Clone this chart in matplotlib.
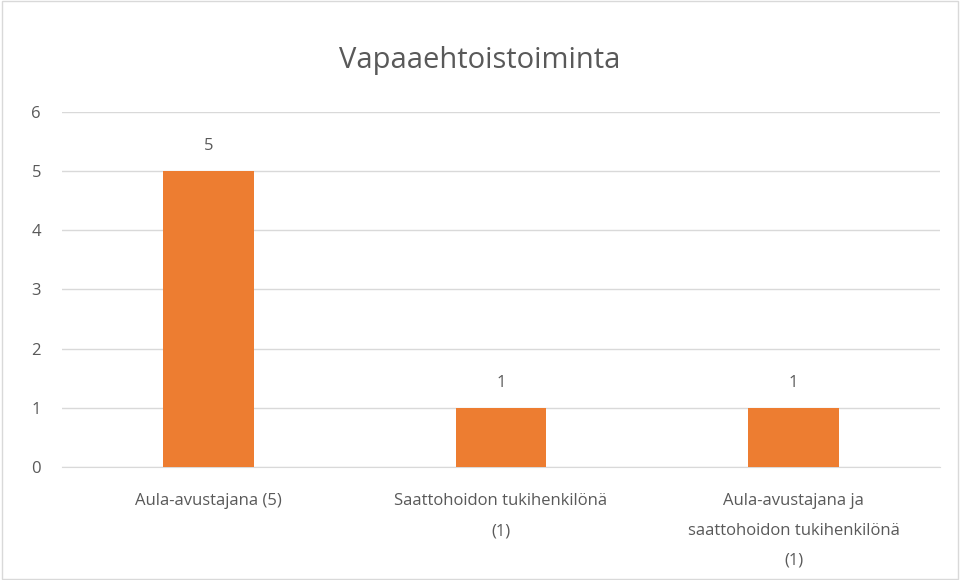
import matplotlib.pyplot as plt
from matplotlib.patches import Rectangle

categories = ['Aula-avustajana (5)', 'Saattohoidon tukihenkilönä\n(1)',
              'Aula-avustajana ja\nsaattohoidon tukihenkilönä\n(1)']
values = [5, 1, 1]

plt.rcParams['font.family'] = ['Open Sans', 'DejaVu Sans']
txt = '#595959'

fig = plt.figure(figsize=(9.6, 5.8), dpi=100)
ax = fig.add_axes([0.0646, 0.195, 0.9146, 0.612])
fig.patches.append(Rectangle((0.002, 0.002), 0.996, 0.996, transform=fig.transFigure,
                             fill=False, edgecolor='#D9D9D9', linewidth=1))

x = range(len(categories))
bars = ax.bar(x, values, width=0.31, color='#ED7D31', zorder=3)
for b, v in zip(bars, values):
    ax.text(b.get_x() + b.get_width() / 2, v + 0.42, str(v), ha='center', va='center',
            fontsize=12, color=txt)

ax.set_xlim(-0.5, 2.5)
ax.set_ylim(0, 6)
ax.set_yticks(range(7))
ax.set_xticks(list(x))
ax.set_xticklabels(categories, fontsize=12, color=txt, va='top', linespacing=2.15)
ax.tick_params(axis='y', labelsize=12, colors=txt, length=0, pad=22)
ax.tick_params(axis='x', length=0, pad=19)
ax.grid(axis='y', color='#D9D9D9', linewidth=1, zorder=0)
for s in ['top', 'right', 'left']:
    ax.spines[s].set_visible(False)
ax.spines['bottom'].set_color('#D9D9D9')
for lab in ax.get_yticklabels():
    lab.set_horizontalalignment('left')

fig.text(0.5, 0.896, 'Vapaaehtoistoiminta', ha='center', va='center', fontsize=21, color=txt)

fig.savefig('out.png')
